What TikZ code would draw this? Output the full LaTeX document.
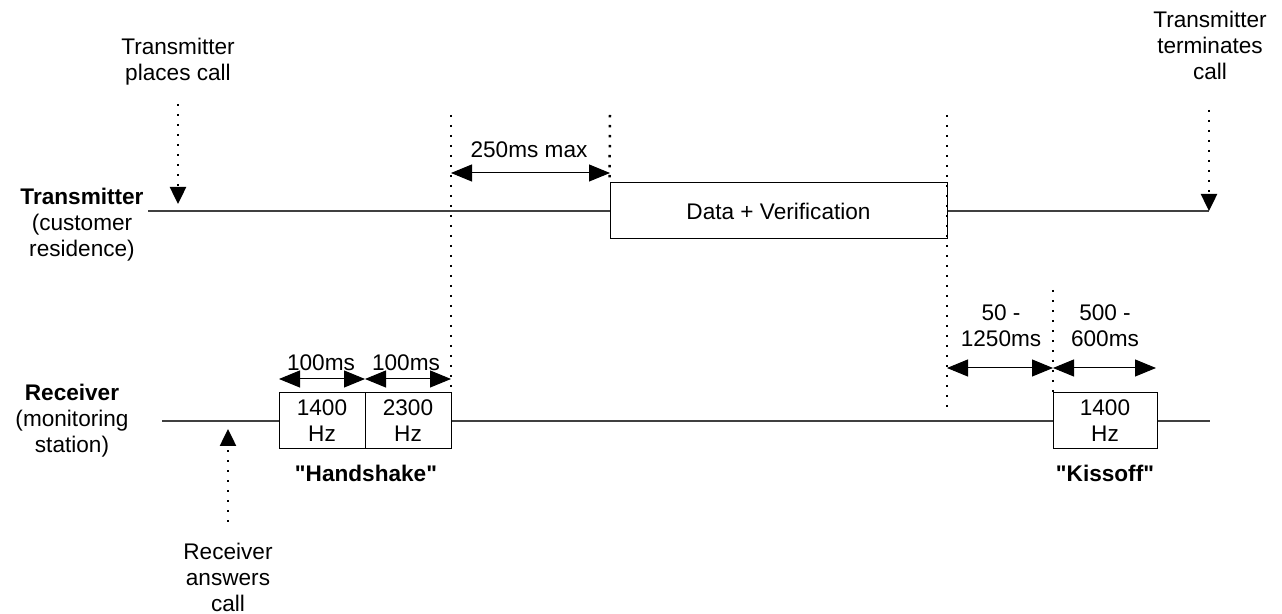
\documentclass[tikz,border=0pt]{standalone}
\usepackage{fontspec}
\setmainfont{Liberation Sans}
\usetikzlibrary{arrows.meta,positioning}
\tikzstyle{timeline} = [x = 0.5pt, y = -0.5pt, every node/.style={font=\fontsize{11.3}{13}\selectfont, align=center, inner sep=0pt}]
\tikzstyle{signalLine} = [color=black!75, line width=0.6pt]
\tikzstyle{toneBox} = [draw=black, fill=white, line width=0.5pt, minimum height=28pt]
\tikzstyle{markLine} = [line width=1.25pt, dash pattern=on 1.2pt off 3.8pt]
\tikzstyle{eventArrow} = [markLine, -{Triangle[length=8.5pt, width=8pt]}]
\tikzstyle{spanArrow} = [line width=0.5pt, {Triangle[length=10.5pt, width=8.5pt]}-{Triangle[length=10.5pt, width=8.5pt]}]
\newcommand{\spanLabel}[3]{\node at (#1, #2) {#3};}
\newcommand{\quoted}[1]{\textquotedbl#1\textquotedbl}

\begin{document}
\begin{tikzpicture}[timeline]
          \useasboundingbox (0,0) rectangle (1282,614);

          % side labels
          \node (txLabel) at (82,225) {\textbf{Transmitter}\\(customer\\residence)};
          \node (rxLabel) at (72,421) {\textbf{Receiver}\\(monitoring\\station)};

          % transmitter row
          \node [toneBox, minimum width=168.5pt] (data) at (778.5,211) {Data + Verification};
          \coordinate (txStart) at (148,211);
          \coordinate (txEnd) at (1209,211);
          \draw [signalLine] (txStart) -- (data.west);
          \draw [signalLine] (data.east) -- (txEnd);

          % receiver row
          \node [toneBox, minimum width=43pt] (toneA) at (322,421) {1400\\Hz};
          \node [toneBox, minimum width=43pt] (toneB) at (408,421) {2300\\Hz};
          \node [toneBox, minimum width=52pt] (kiss) at (1105,421) {1400\\Hz};
          \coordinate (rxStart) at (162,421);
          \coordinate (rxEnd) at (1210,421);
          \draw [signalLine] (rxStart) -- (toneA.west);
          \draw [signalLine] (toneB.east) -- (kiss.west);
          \draw [signalLine] (kiss.east) -- (rxEnd);
          \node (handshake) at (366,473) {\textbf{\quoted{Handshake}}};
          \node (kissoff) at (1105,473) {\textbf{\quoted{Kissoff}}};

          % events
          \node (placeCall) at (178,62) {Transmitter\\places call};
          \node (endCall) at (1210,45) {Transmitter\\terminates\\call};
          \node (answerCall) at (228,577) {Receiver\\answers\\call};
          \draw [eventArrow] (178,104) -- (178,204);
          \draw [eventArrow] (1209,110) -- (txEnd);
          \draw [eventArrow] (228,522) -- (228,429);

          % timing marks
          \coordinate (hsTop) at (451,115);
          \coordinate (dataTop) at (610,115);
          \coordinate (dataEndTop) at (947,115);
          \coordinate (kissTop) at (1053,290);
          \draw [markLine] (hsTop) -- (451,390);
          \draw [markLine] (dataTop) -- (data.north west);
          \draw [markLine] (dataEndTop) -- (947,409);
          \draw [markLine] (kissTop) -- (1053,392);

          % durations
          \draw [spanArrow] (451,173) -- (610,173);
          \spanLabel{529}{150}{250ms max}
          \draw [spanArrow] (279,379) -- (365,379);
          \spanLabel{321}{363}{100ms}
          \draw [spanArrow] (365,379) -- (451,379);
          \spanLabel{406}{363}{100ms}
          \draw [spanArrow] (947,368) -- (1053,368);
          \spanLabel{1001}{326}{50 -\\1250ms}
          \draw [spanArrow] (1053,368) -- (1156,368);
          \spanLabel{1105}{326}{500 -\\600ms}
        \end{tikzpicture}
\end{document}
